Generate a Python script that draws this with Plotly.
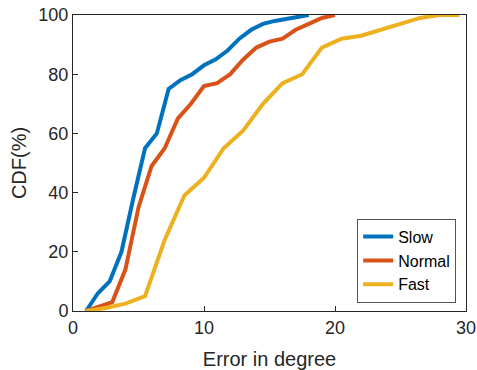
import plotly.graph_objects as go

slow_x = [1.0, 1.9, 2.8, 3.7, 4.6, 5.5, 6.4, 7.3, 8.2, 9.1, 10.0, 10.9, 11.8, 12.7, 13.6, 14.5, 15.4, 16.3, 17.2, 18.0]
slow_y = [0, 6, 10, 20, 38, 55, 60, 75, 78, 80, 83, 85, 88, 92, 95, 97, 98, 98.6, 99.2, 100]

normal_x = [1, 2, 3, 4, 5, 6, 7, 8, 9, 10, 11, 12, 13, 14, 15, 16, 17, 18, 19, 20]
normal_y = [0, 1.5, 3, 14, 35, 49, 55, 65, 70, 76, 77, 80, 85, 89, 91, 92, 95, 97, 99, 100]

fast_x = [1, 2.5, 4, 5.5, 7, 8.5, 10, 11.5, 13, 14.5, 16, 17.5, 19, 20.5, 22, 23.5, 25, 26.5, 28, 29.5]
fast_y = [0, 1, 2.5, 5, 24, 39, 45, 55, 61, 70, 77, 80, 89, 92, 93, 95, 97, 99, 100, 100]

names = ["Slow", "Normal", "Fast"]
colors = ["#0072BD", "#D95319", "#EDB120"]
xs = [slow_x, normal_x, fast_x]
ys = [slow_y, normal_y, fast_y]

fig = go.Figure()
for n, c, x, y in zip(names, colors, xs, ys):
    fig.add_trace(go.Scatter(x=x, y=y, mode="lines", name=n,
                             line=dict(color=c, width=4)))

axis_common = dict(showgrid=False, zeroline=False, mirror=True, showline=True,
                   linecolor="#262626", linewidth=1, ticks="inside", ticklen=5,
                   tickcolor="#262626", tickfont=dict(size=18, color="#262626"),
                   automargin=False)

fig.update_layout(
    width=477, height=370,
    margin=dict(l=73, r=11, t=15, b=59, autoexpand=False),
    paper_bgcolor="white", plot_bgcolor="white",
    font=dict(family="Liberation Sans, Arial, sans-serif", color="#262626"),
    xaxis=dict(range=[0, 30], tickvals=[0, 10, 20, 30],
               title=dict(text="Error in degree", font=dict(size=20), standoff=15),
               **axis_common),
    yaxis=dict(range=[0, 100], tickvals=[0, 20, 40, 60, 80, 100],
               title=dict(text="CDF(%)", font=dict(size=20), standoff=6),
               **axis_common),
    legend=dict(x=0.975, y=0.028, xanchor="right", yanchor="bottom",
                bordercolor="#555555", borderwidth=1, bgcolor="white",
                font=dict(size=16, color="#000000"),
                tracegroupgap=0, itemwidth=30),
    showlegend=True,
)

fig.write_html("out.html")
